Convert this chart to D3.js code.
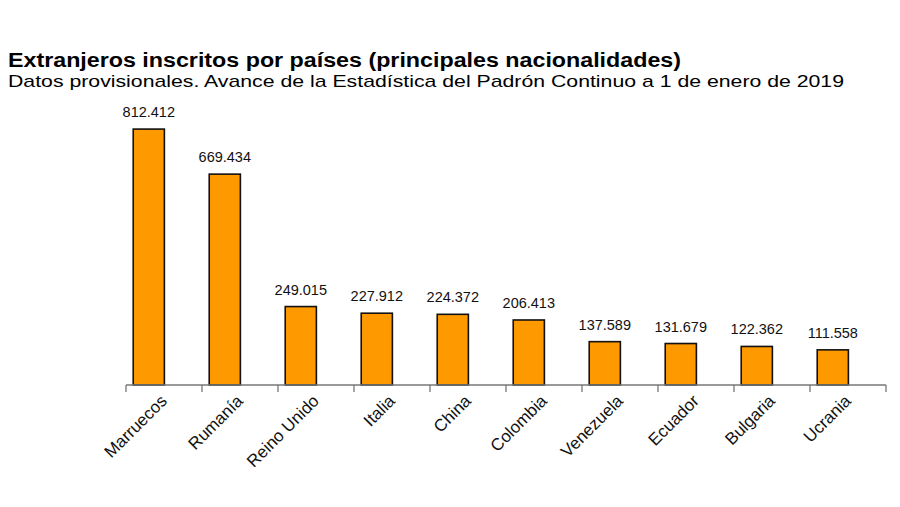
<!DOCTYPE html>
<html>
<head>
<meta charset="utf-8">
<script src="https://cdn.jsdelivr.net/npm/d3@7"></script>
<style>
  html, body { margin: 0; padding: 0; background: #fff; }
  svg { display: block; font-family: "Liberation Sans", Arial, sans-serif; }
</style>
</head>
<body>
<div id="chart"></div>
<script>
(function () {
  'use strict';

  /* ── Data ── */
  var countries = ['Marruecos', 'Rumanía', 'Reino Unido', 'Italia', 'China',
                   'Colombia', 'Venezuela', 'Ecuador', 'Bulgaria', 'Ucrania'];
  var residents = [812412, 669434, 249015, 227912, 224372,
                   206413, 137589, 131679, 122362, 111558];
  var valueLabels = ['812.412', '669.434', '249.015', '227.912', '224.372',
                     '206.413', '137.589', '131.679', '122.362', '111.558'];

  var title = 'Extranjeros inscritos por países (principales nacionalidades)';
  var subtitle = 'Datos provisionales. Avance de la Estadística del Padrón Continuo a 1 de enero de 2019';

  var W = 900, H = 507;

  var svg = d3.select('#chart').append('svg')
    .attr('width', W).attr('height', H);

  /* ── Titles ── */
  svg.append('text')
    .attr('x', 8).attr('y', 67)
    .attr('font-size', 19.5).attr('font-weight', 'bold')
    .attr('textLength', 673).attr('lengthAdjust', 'spacingAndGlyphs')
    .attr('fill', '#000')
    .text(title);

  svg.append('text')
    .attr('x', 8).attr('y', 87)
    .attr('font-size', 17)
    .attr('textLength', 836).attr('lengthAdjust', 'spacingAndGlyphs')
    .attr('fill', '#000')
    .text(subtitle);

  /* ── Scales ── */
  var x = d3.scaleBand().domain(countries).range([126, 886]).padding(0);
  var y = d3.scaleLinear().domain([0, 900000]).range([385, 101.5]);

  var bw = x.bandwidth();
  var barOff = bw * 0.095, barW = bw * 0.41;

  /* ── Bars ── */
  svg.append('g').selectAll('rect')
    .data(countries)
    .join('rect')
    .attr('x', function (d) { return x(d) + barOff; })
    .attr('y', function (d, i) { return y(residents[i]); })
    .attr('width', barW)
    .attr('height', function (d, i) { return y(0) - y(residents[i]); })
    .attr('fill', '#FF9900')
    .attr('stroke', '#111')
    .attr('stroke-width', 1.6);

  /* ── Value labels ── */
  svg.append('g').selectAll('text')
    .data(countries)
    .join('text')
    .attr('x', function (d) { return x(d) + barOff + barW / 2; })
    .attr('y', function (d, i) { return y(residents[i]) - 12; })
    .attr('text-anchor', 'middle')
    .attr('font-size', 14.5)
    .attr('fill', '#111')
    .text(function (d, i) { return valueLabels[i]; });

  /* ── X axis ── */
  var axisG = svg.append('g').attr('transform', 'translate(0,' + y(0) + ')');
  axisG.append('line')
    .attr('x1', x.range()[0]).attr('x2', x.range()[1])
    .attr('stroke', '#777').attr('stroke-width', 1.3);

  var tickX = countries.map(function (c) { return x(c); }).concat([x.range()[1]]);
  axisG.selectAll('line.tick')
    .data(tickX)
    .join('line')
    .attr('class', 'tick')
    .attr('x1', function (d) { return d; }).attr('x2', function (d) { return d; })
    .attr('y1', 0).attr('y2', 7)
    .attr('stroke', '#777').attr('stroke-width', 1.3);

  axisG.selectAll('text')
    .data(countries)
    .join('text')
    .attr('transform', function (d) {
      return 'translate(' + (x(d) + bw / 2 + 4) + ',17) rotate(-45)';
    })
    .attr('text-anchor', 'end')
    .attr('font-size', 17)
    .attr('fill', '#111')
    .text(function (d) { return d; });

})();
</script>
</body>
</html>
